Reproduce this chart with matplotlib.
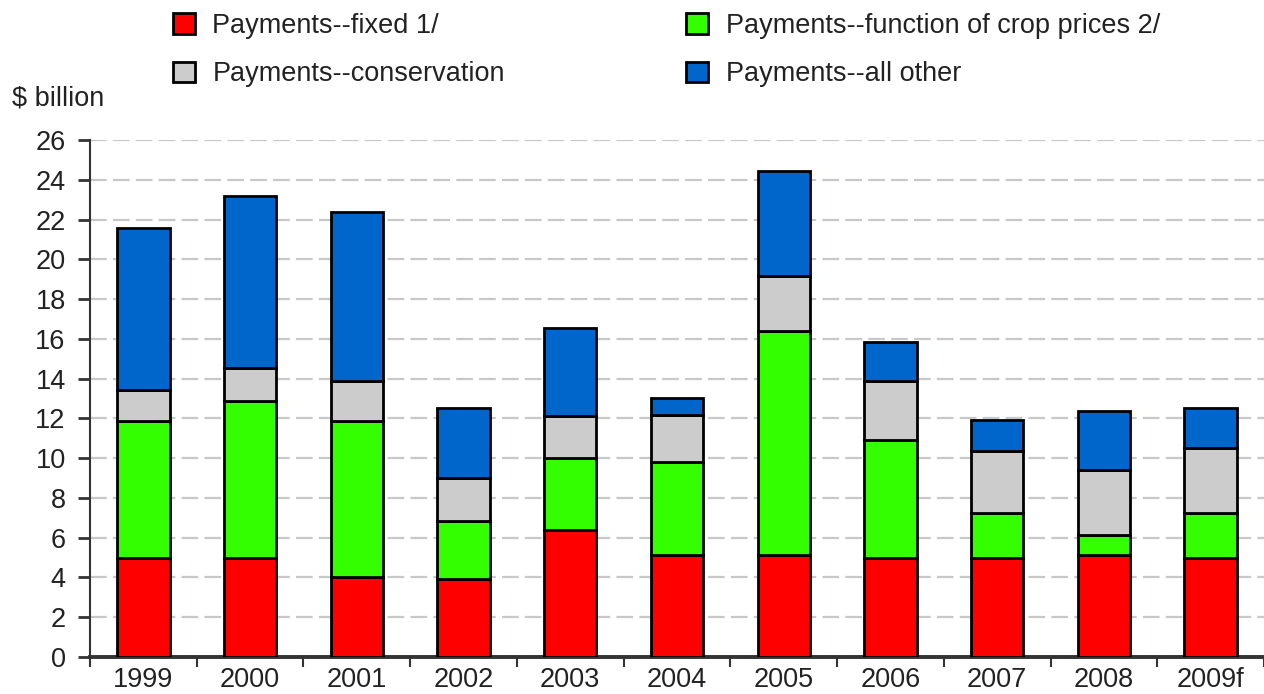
import numpy as np
import matplotlib
matplotlib.use("Agg")
import matplotlib.pyplot as plt

# --- data ($ billion) ---
years = ["1999", "2000", "2001", "2002", "2003", "2004", "2005", "2006", "2007", "2008", "2009f"]
pay_fixed = [5.0, 5.0, 4.0, 3.9, 6.4, 5.15, 5.15, 5.0, 5.0, 5.15, 5.0]
pay_crop = [6.85, 7.85, 7.85, 2.95, 3.6, 4.65, 11.25, 5.9, 2.25, 1.0, 2.25]
pay_cons = [1.6, 1.7, 2.05, 2.15, 2.1, 2.35, 2.75, 3.0, 3.1, 3.25, 3.25]
pay_other = [8.1, 8.65, 8.5, 3.5, 4.45, 0.9, 5.3, 1.95, 1.55, 2.95, 2.0]

series = [
    ("Payments--fixed 1/", pay_fixed, "#ff0000"),
    ("Payments--function of crop prices 2/", pay_crop, "#33ff00"),
    ("Payments--conservation", pay_cons, "#cccccc"),
    ("Payments--all other", pay_other, "#0066cc"),
]

TEXT = "#222222"
AXIS = "#333333"
FS = 19.5

plt.rcParams["font.family"] = ["Liberation Sans", "DejaVu Sans"]

fig = plt.figure(figsize=(12.64, 6.94), dpi=100)
ax = fig.add_axes([90 / 1264, 1 - 657 / 694, 1 - 90 / 1264, (657 - 140) / 694])

x = np.arange(len(years))
bottom = np.zeros(len(years))
handles = {}
for label, vals, col in series:
    b = ax.bar(x, vals, width=0.49, bottom=bottom, color=col,
               edgecolor="black", linewidth=2.0, label=label, zorder=3)
    handles[label] = b
    bottom += np.array(vals)

ax.set_xlim(-0.5, len(years) - 0.5)
ax.set_ylim(0, 26)
ax.set_yticks(np.arange(0, 27, 2))
ax.yaxis.grid(True, color="#c8c8c8", lw=1.6, linestyle=(0, (7.5, 2.8)), zorder=0)
ax.set_axisbelow(True)

ax.set_xticks(x)
ax.set_xticklabels(years)
ax.set_xticks(np.arange(-0.5, len(years), 1), minor=True)
ax.tick_params(axis="x", which="major", length=0, pad=7, labelsize=FS, labelcolor=TEXT)
ax.tick_params(axis="x", which="minor", length=7, width=1.5, color=AXIS, direction="out")
ax.tick_params(axis="y", length=8.5, width=2, color=AXIS, pad=9, labelsize=FS, labelcolor=TEXT)

for side in ["top", "right"]:
    ax.spines[side].set_visible(False)
ax.spines["left"].set_color(AXIS)
ax.spines["left"].set_linewidth(1.5)
ax.spines["bottom"].set_color(AXIS)
ax.spines["bottom"].set_linewidth(2.8)

fig.text(12 / 1264, 1 - 98 / 694, r"\$ billion", fontsize=FS, color=TEXT, va="center", ha="left")

order = [series[0][0], series[2][0], series[1][0], series[3][0]]
leg = fig.legend([handles[k] for k in order], order, ncol=2, frameon=False,
                 loc="upper left", bbox_to_anchor=(173 / 1264, 1 - 13 / 694),
                 borderpad=0, borderaxespad=0,
                 fontsize=FS, handlelength=0.8, handleheight=0.8,
                 handletextpad=0.65, columnspacing=6.7, labelspacing=0.83,
                 labelcolor=TEXT)

fig.savefig("out.png", dpi=100)
